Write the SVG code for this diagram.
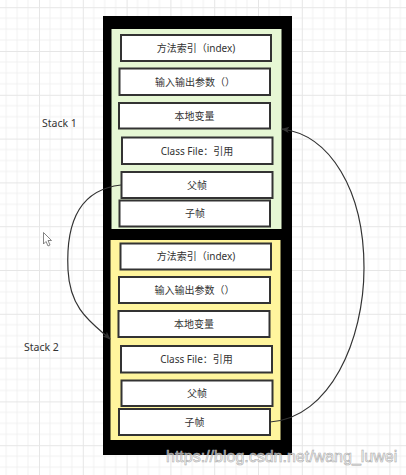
<svg xmlns="http://www.w3.org/2000/svg" width="406" height="475" viewBox="0 0 406 475">
<defs>
<pattern id="grid" patternUnits="userSpaceOnUse" x="39" y="51" width="43.8" height="43.8">
<path d="M10.95 0V43.8M21.9 0V43.8M32.85 0V43.8M0 10.95H43.8M0 21.9H43.8M0 32.85H43.8" stroke="#f1f1f1" stroke-width="1" fill="none"/>
<path d="M0.5 0V43.8M0 0.5H43.8" stroke="#e6e6e6" stroke-width="1" fill="none"/>
</pattern>
<marker id="arr" viewBox="0 0 10 10" refX="9" refY="5" markerWidth="8" markerHeight="8" markerUnits="userSpaceOnUse" orient="auto">
<path d="M0,1 L10,5 L0,9 L2.5,5 Z" fill="#333"/>
</marker>
<style>
.box{fill:#fff;stroke:#333;stroke-width:2}
.t{font-family:"Noto Sans","Noto Sans CJK SC",sans-serif;font-size:10px;fill:#333;text-anchor:middle}
.lbl{font-family:"Noto Sans","Noto Sans CJK SC",sans-serif;font-size:10.5px;fill:#333}
.link{fill:none;stroke:#333;stroke-width:1.2}
</style>
</defs>
<rect width="406" height="475" fill="#fff"/>
<rect width="406" height="475" fill="url(#grid)"/>
<g id="frame">
<rect x="103" y="16" width="189" height="439" fill="#000"/>
</g>
<g id="stack1">
<rect x="111.5" y="29" width="170" height="200" fill="#e6f7d4"/>
<g id="s1-index"><rect class="box" x="121" y="35" width="150" height="26"/><text class="t" x="196" y="51.5">方法索引（index)</text></g>
<g id="s1-params"><rect class="box" x="119.5" y="68.5" width="150.5" height="26.5"/><text class="t" x="195" y="85.5">输入输出参数（）</text></g>
<g id="s1-local"><rect class="box" x="119" y="103" width="151" height="25.5"/><text class="t" x="194.5" y="119.5">本地变量</text></g>
<g id="s1-class"><rect class="box" x="122" y="137.5" width="150.5" height="26.5"/><text class="t" x="197" y="154.5">Class File：引用</text></g>
<g id="s1-parent"><rect class="box" x="121.5" y="172" width="151" height="26"/><text class="t" x="197" y="188.5">父帧</text></g>
<g id="s1-child"><rect class="box" x="119.5" y="200.5" width="150.5" height="26"/><text class="t" x="195" y="217">子帧</text></g>
</g>
<g id="stack2">
<rect x="110.5" y="240" width="170" height="200" fill="#fff59d"/>
<g id="s2-index"><rect class="box" x="120.5" y="243.5" width="150.5" height="26"/><text class="t" x="196" y="260">方法索引（index)</text></g>
<g id="s2-params"><rect class="box" x="119" y="277" width="151" height="26"/><text class="t" x="194.5" y="293.5">输入输出参数（）</text></g>
<g id="s2-local"><rect class="box" x="118.5" y="311" width="151" height="26"/><text class="t" x="194" y="327.5">本地变量</text></g>
<g id="s2-class"><rect class="box" x="121" y="346" width="151" height="26.5"/><text class="t" x="196.5" y="362.5">Class File：引用</text></g>
<g id="s2-parent"><rect class="box" x="121.5" y="380.5" width="151" height="25.5"/><text class="t" x="197" y="396.5">父帧</text></g>
<g id="s2-child"><rect class="box" x="119" y="409" width="151" height="26"/><text class="t" x="194.5" y="425.5">子帧</text></g>
</g>
<g id="label-stack1"><text class="lbl" x="42" y="127">Stack 1</text></g>
<g id="label-stack2"><text class="lbl" x="24" y="351">Stack 2</text></g>
<g id="connectors">
<path class="link" d="M121,185 C75,190 66,230 68,270 S92,323 110,339" marker-end="url(#arr)"/>
<path class="link" d="M270,422 C330,418 364,340 364,268 C364,190 330,135 282,129" marker-end="url(#arr)"/>
</g>
<g id="cursor">
<path d="M43.5,232.5 L43.5,244 L46,241.5 L48,246 L50,245 L48,240.5 L51.5,240.5 Z" fill="#fff" stroke="#666" stroke-width="0.8"/>
</g>
<g id="watermark">
<text x="166" y="462" font-family="Liberation Sans, Arial, sans-serif" font-size="16" fill="#ffffff" fill-opacity="0.6" stroke="#aaaaaa" stroke-width="0.6">https://blog.csdn.net/wang_luwei</text>
</g>
</svg>
